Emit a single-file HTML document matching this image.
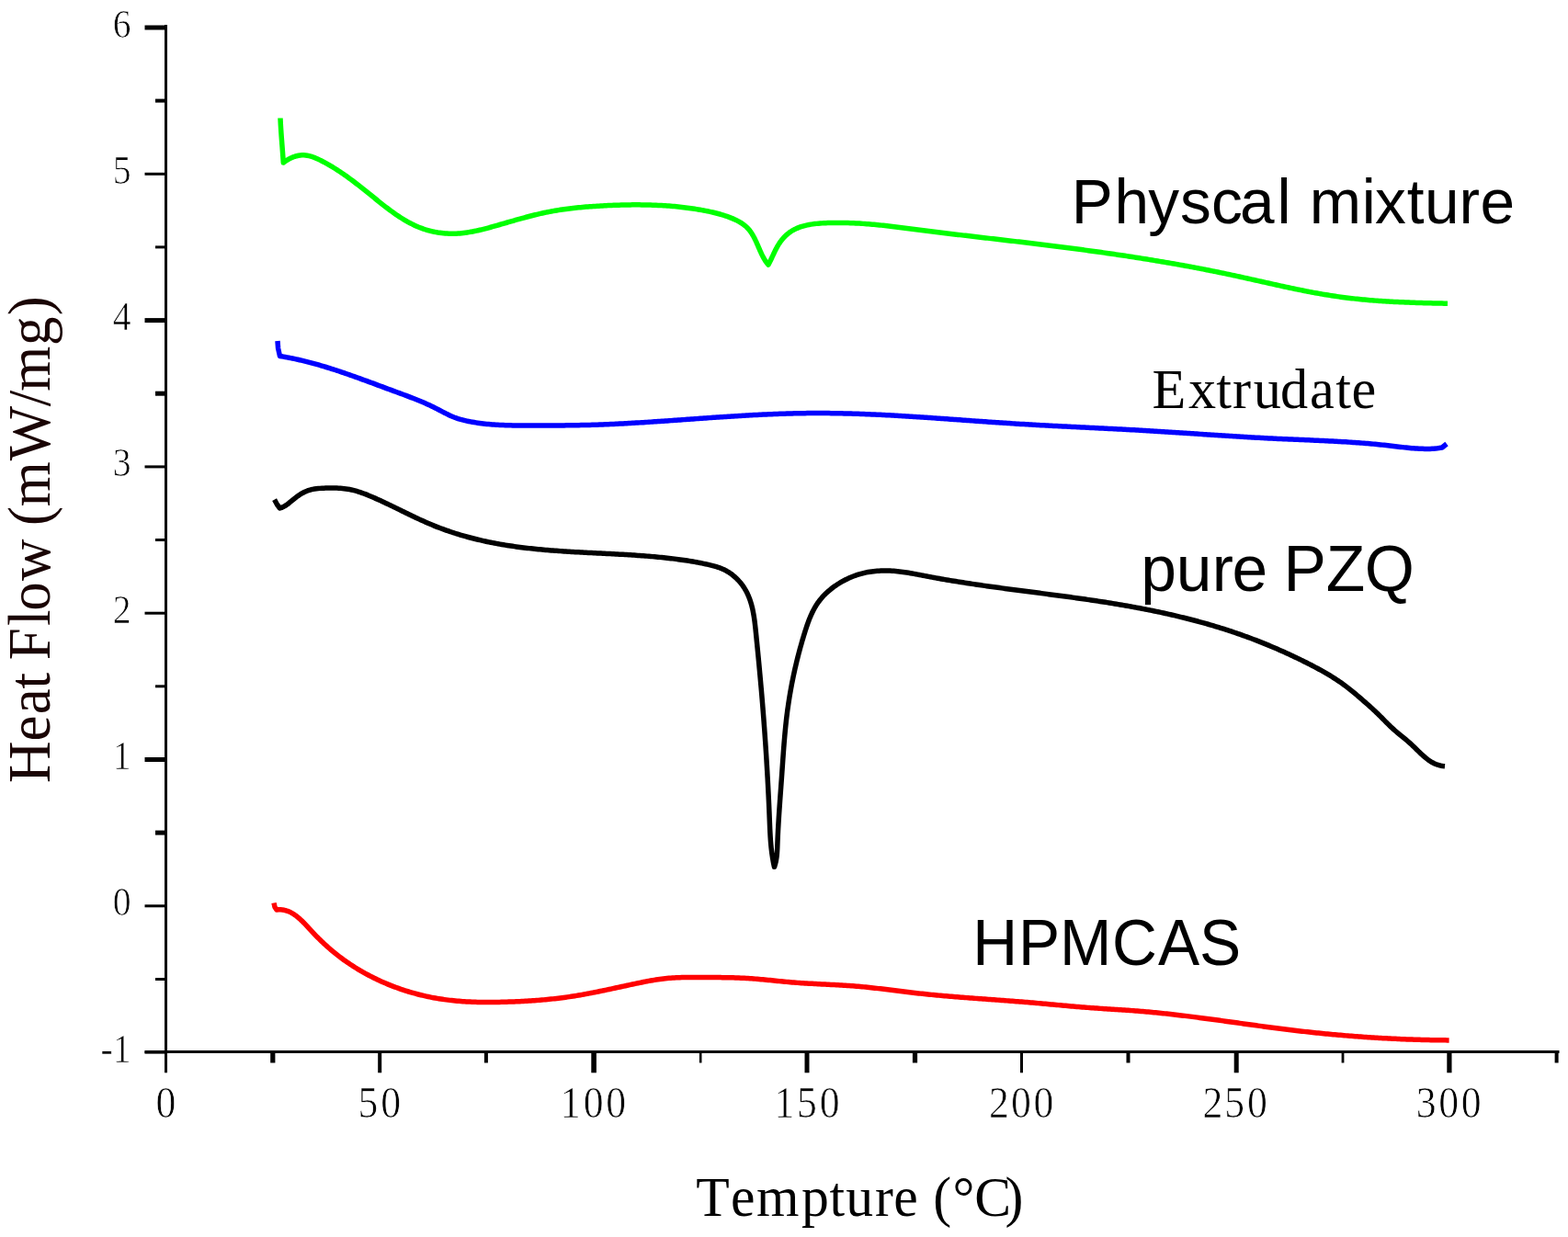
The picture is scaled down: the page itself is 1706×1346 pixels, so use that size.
<!DOCTYPE html>
<html><head><meta charset="utf-8"><title>DSC</title>
<style>html,body{margin:0;padding:0;background:#fff;}svg{display:block;}</style>
</head><body>
<svg width="1706" height="1346" viewBox="0 0 1706 1346">
<rect x="0" y="0" width="1706" height="1346" fill="#fff"/>
<g fill="#000">
<rect x="179" y="27" width="3" height="1140"/>
<rect x="157.5" y="1143" width="1539" height="3"/>
<rect x="157.5" y="27.5" width="22.5" height="5"/>
<rect x="169.0" y="107.6" width="11.0" height="4"/>
<rect x="157.5" y="187.8" width="22.5" height="3"/>
<rect x="169.0" y="267.4" width="11.0" height="3"/>
<rect x="157.5" y="346.1" width="22.5" height="5"/>
<rect x="169.0" y="425.7" width="11.0" height="5"/>
<rect x="157.5" y="506.4" width="22.5" height="3"/>
<rect x="169.0" y="586.0" width="11.0" height="3"/>
<rect x="157.5" y="665.7" width="22.5" height="3"/>
<rect x="169.0" y="745.3" width="11.0" height="3"/>
<rect x="157.5" y="824.0" width="22.5" height="5"/>
<rect x="169.0" y="903.6" width="11.0" height="5"/>
<rect x="157.5" y="984.3" width="22.5" height="3"/>
<rect x="169.0" y="1064.0" width="11.0" height="3"/>
<rect x="157.5" y="1143.6" width="22.5" height="3"/>
<rect x="179.1" y="1144" width="2.8" height="23.3"/>
<rect x="294.2" y="1144" width="5.2" height="12.5"/>
<rect x="411.2" y="1144" width="4.0" height="23.3"/>
<rect x="526.9" y="1144" width="4.0" height="12.5"/>
<rect x="643.3" y="1144" width="5.6" height="23.3"/>
<rect x="760.9" y="1144" width="2.6" height="12.5"/>
<rect x="875.5" y="1144" width="5.0" height="23.3"/>
<rect x="992.9" y="1144" width="5.2" height="12.5"/>
<rect x="1110.0" y="1144" width="3.0" height="23.3"/>
<rect x="1225.5" y="1144" width="4.0" height="12.5"/>
<rect x="1342.7" y="1144" width="5.0" height="23.3"/>
<rect x="1459.6" y="1144" width="2.8" height="12.5"/>
<rect x="1574.3" y="1144" width="5.2" height="23.3"/>
<rect x="1691.6" y="1144" width="4.0" height="12.5"/>
</g>
<path fill="none" stroke="#00ff00" stroke-width="5.5" stroke-linejoin="round" stroke-linecap="butt" d="M305.00,128.50 L305.09,130.61 L305.19,132.72 L305.30,134.83 L305.42,136.94 L305.55,139.05 L305.68,141.16 L305.82,143.27 L305.97,145.38 L306.12,147.49 L306.27,149.60 L306.43,151.70 L306.59,153.81 L306.75,155.92 L306.91,158.03 L307.08,160.13 L307.24,162.24 L307.40,164.35 L307.56,166.46 L307.71,168.57 L307.87,170.67 L308.02,172.78 L308.16,174.89 L308.30,177.00 L309.96,175.76 L311.67,174.60 L313.43,173.53 L315.24,172.55 L317.08,171.67 L318.96,170.90 L320.86,170.24 L322.78,169.70 L324.72,169.28 L326.66,169.00 L328.61,168.85 L330.54,168.84 L332.48,168.98 L334.40,169.25 L336.31,169.64 L338.21,170.14 L340.09,170.74 L341.97,171.42 L343.83,172.18 L345.68,173.00 L347.52,173.87 L349.34,174.78 L351.15,175.71 L352.94,176.67 L354.72,177.64 L356.48,178.62 L358.23,179.63 L359.97,180.64 L361.70,181.68 L363.41,182.73 L365.11,183.79 L366.80,184.87 L368.48,185.96 L370.14,187.07 L371.80,188.19 L373.45,189.32 L375.09,190.46 L376.73,191.61 L378.35,192.77 L379.97,193.95 L381.58,195.13 L383.18,196.32 L384.78,197.52 L386.37,198.73 L387.96,199.95 L389.55,201.17 L391.13,202.40 L392.70,203.64 L394.28,204.88 L395.85,206.13 L397.42,207.38 L398.99,208.64 L400.56,209.90 L402.12,211.16 L403.69,212.43 L405.26,213.70 L406.83,214.97 L408.40,216.24 L409.97,217.51 L411.54,218.78 L413.12,220.04 L414.70,221.31 L416.29,222.56 L417.88,223.81 L419.48,225.05 L421.08,226.28 L422.69,227.50 L424.30,228.71 L425.93,229.90 L427.56,231.08 L429.20,232.25 L430.85,233.40 L432.50,234.53 L434.17,235.64 L435.85,236.73 L437.54,237.79 L439.24,238.84 L440.96,239.86 L442.68,240.85 L444.42,241.82 L446.18,242.76 L447.95,243.67 L449.73,244.55 L451.53,245.40 L453.34,246.21 L455.17,246.99 L457.02,247.73 L458.89,248.44 L460.77,249.11 L462.67,249.74 L464.59,250.33 L466.53,250.88 L468.48,251.39 L470.44,251.86 L472.41,252.29 L474.40,252.67 L476.39,253.02 L478.39,253.32 L480.39,253.58 L482.40,253.80 L484.41,253.98 L486.42,254.11 L488.43,254.21 L490.43,254.25 L492.43,254.26 L494.43,254.23 L496.43,254.15 L498.42,254.04 L500.41,253.89 L502.39,253.70 L504.38,253.49 L506.36,253.24 L508.33,252.96 L510.31,252.65 L512.28,252.31 L514.25,251.95 L516.21,251.57 L518.18,251.16 L520.14,250.73 L522.10,250.28 L524.05,249.81 L526.01,249.33 L527.96,248.83 L529.91,248.32 L531.86,247.80 L533.81,247.26 L535.76,246.72 L537.70,246.17 L539.64,245.62 L541.58,245.06 L543.52,244.50 L545.46,243.94 L547.40,243.37 L549.34,242.81 L551.27,242.25 L553.21,241.69 L555.14,241.13 L557.08,240.58 L559.01,240.02 L560.95,239.47 L562.88,238.93 L564.82,238.39 L566.75,237.85 L568.69,237.32 L570.62,236.79 L572.56,236.27 L574.50,235.76 L576.44,235.25 L578.38,234.76 L580.32,234.27 L582.26,233.79 L584.20,233.32 L586.15,232.86 L588.10,232.41 L590.05,231.97 L592.00,231.54 L593.96,231.13 L595.91,230.73 L597.87,230.34 L599.84,229.96 L601.80,229.60 L603.77,229.25 L605.74,228.92 L607.72,228.59 L609.69,228.29 L611.67,227.99 L613.65,227.71 L615.64,227.43 L617.62,227.17 L619.61,226.92 L621.60,226.68 L623.59,226.45 L625.59,226.24 L627.58,226.03 L629.58,225.83 L631.58,225.64 L633.58,225.45 L635.58,225.28 L637.58,225.11 L639.59,224.96 L641.59,224.81 L643.60,224.66 L645.61,224.52 L647.61,224.39 L649.62,224.27 L651.63,224.15 L653.64,224.03 L655.65,223.92 L657.66,223.82 L659.67,223.72 L661.68,223.62 L663.69,223.53 L665.70,223.45 L667.71,223.36 L669.73,223.29 L671.74,223.22 L673.75,223.15 L675.76,223.10 L677.77,223.04 L679.78,223.00 L681.79,222.96 L683.80,222.92 L685.81,222.89 L687.82,222.87 L689.83,222.86 L691.84,222.85 L693.85,222.85 L695.86,222.86 L697.87,222.88 L699.88,222.90 L701.89,222.93 L703.89,222.97 L705.90,223.01 L707.90,223.07 L709.91,223.13 L711.91,223.21 L713.92,223.29 L715.92,223.38 L717.92,223.48 L719.92,223.58 L721.92,223.70 L723.92,223.83 L725.92,223.97 L727.92,224.11 L729.91,224.27 L731.91,224.44 L733.90,224.61 L735.89,224.80 L737.88,225.00 L739.87,225.21 L741.86,225.43 L743.85,225.66 L745.84,225.91 L747.82,226.16 L749.80,226.43 L751.79,226.70 L753.77,226.99 L755.74,227.30 L757.72,227.61 L759.70,227.94 L761.67,228.28 L763.64,228.63 L765.61,228.99 L767.58,229.37 L769.55,229.76 L771.51,230.17 L773.48,230.59 L775.43,231.03 L777.39,231.49 L779.34,231.97 L781.29,232.47 L783.23,233.00 L785.16,233.56 L787.09,234.15 L789.01,234.76 L790.92,235.41 L792.83,236.10 L794.72,236.82 L796.61,237.58 L798.48,238.38 L800.32,239.23 L802.13,240.13 L803.91,241.09 L805.63,242.10 L807.31,243.17 L808.92,244.31 L810.47,245.52 L811.94,246.80 L813.34,248.15 L814.64,249.59 L815.87,251.10 L817.02,252.68 L818.10,254.32 L819.12,256.01 L820.09,257.75 L821.02,259.54 L821.91,261.35 L822.77,263.20 L823.60,265.06 L824.43,266.94 L825.24,268.82 L826.06,270.71 L826.88,272.59 L827.72,274.46 L828.58,276.30 L829.48,278.12 L830.41,279.91 L831.38,281.65 L832.41,283.35 L833.51,285.00 L834.66,286.58 L835.90,288.10 L836.81,286.47 L837.69,284.77 L838.55,283.03 L839.40,281.25 L840.25,279.43 L841.10,277.60 L841.96,275.75 L842.84,273.89 L843.75,272.04 L844.70,270.20 L845.69,268.39 L846.73,266.61 L847.84,264.86 L849.00,263.17 L850.23,261.53 L851.52,259.95 L852.86,258.43 L854.26,256.98 L855.71,255.61 L857.21,254.32 L858.76,253.12 L860.36,252.01 L862.00,250.98 L863.68,250.02 L865.40,249.15 L867.16,248.35 L868.96,247.61 L870.79,246.95 L872.65,246.34 L874.54,245.80 L876.45,245.31 L878.39,244.87 L880.34,244.48 L882.32,244.14 L884.32,243.85 L886.33,243.59 L888.35,243.36 L890.38,243.17 L892.41,243.01 L894.46,242.87 L896.50,242.76 L898.55,242.67 L900.60,242.59 L902.64,242.52 L904.68,242.47 L906.72,242.43 L908.75,242.40 L910.79,242.39 L912.82,242.39 L914.84,242.40 L916.87,242.43 L918.89,242.46 L920.91,242.51 L922.93,242.56 L924.95,242.63 L926.97,242.71 L928.98,242.80 L930.99,242.90 L933.00,243.00 L935.01,243.12 L937.01,243.25 L939.02,243.38 L941.02,243.52 L943.02,243.67 L945.02,243.83 L947.02,244.00 L949.02,244.17 L951.02,244.35 L953.01,244.54 L955.01,244.73 L957.00,244.93 L958.99,245.13 L960.98,245.34 L962.98,245.56 L964.96,245.78 L966.95,246.00 L968.94,246.23 L970.93,246.46 L972.92,246.70 L974.90,246.94 L976.89,247.18 L978.88,247.43 L980.86,247.68 L982.85,247.93 L984.83,248.18 L986.82,248.43 L988.80,248.69 L990.79,248.95 L992.77,249.20 L994.76,249.46 L996.74,249.72 L998.73,249.98 L1000.72,250.23 L1002.70,250.49 L1004.69,250.75 L1006.68,251.00 L1008.67,251.25 L1010.65,251.51 L1012.64,251.76 L1014.63,252.01 L1016.62,252.26 L1018.61,252.50 L1020.60,252.75 L1022.60,253.00 L1024.59,253.24 L1026.58,253.48 L1028.57,253.73 L1030.56,253.97 L1032.56,254.21 L1034.55,254.45 L1036.54,254.69 L1038.54,254.93 L1040.53,255.17 L1042.53,255.40 L1044.52,255.64 L1046.52,255.88 L1048.51,256.11 L1050.51,256.35 L1052.51,256.58 L1054.50,256.82 L1056.50,257.05 L1058.50,257.28 L1060.49,257.52 L1062.49,257.75 L1064.49,257.98 L1066.49,258.22 L1068.48,258.45 L1070.48,258.68 L1072.48,258.91 L1074.48,259.14 L1076.47,259.37 L1078.47,259.61 L1080.47,259.84 L1082.47,260.07 L1084.47,260.30 L1086.47,260.53 L1088.46,260.76 L1090.46,261.00 L1092.46,261.23 L1094.46,261.46 L1096.46,261.69 L1098.46,261.93 L1100.46,262.16 L1102.45,262.39 L1104.45,262.63 L1106.45,262.86 L1108.45,263.10 L1110.45,263.34 L1112.44,263.57 L1114.44,263.81 L1116.44,264.05 L1118.44,264.28 L1120.43,264.52 L1122.43,264.76 L1124.43,265.00 L1126.43,265.25 L1128.42,265.49 L1130.42,265.73 L1132.42,265.97 L1134.41,266.22 L1136.41,266.46 L1138.40,266.71 L1140.40,266.96 L1142.39,267.20 L1144.39,267.45 L1146.38,267.70 L1148.38,267.95 L1150.37,268.21 L1152.37,268.46 L1154.36,268.71 L1156.36,268.97 L1158.35,269.22 L1160.34,269.48 L1162.34,269.74 L1164.33,270.00 L1166.32,270.26 L1168.31,270.52 L1170.31,270.78 L1172.30,271.04 L1174.29,271.31 L1176.28,271.57 L1178.27,271.84 L1180.27,272.11 L1182.26,272.38 L1184.25,272.65 L1186.24,272.92 L1188.23,273.19 L1190.22,273.47 L1192.21,273.74 L1194.20,274.02 L1196.19,274.30 L1198.18,274.58 L1200.17,274.86 L1202.15,275.14 L1204.14,275.42 L1206.13,275.71 L1208.12,276.00 L1210.11,276.29 L1212.09,276.57 L1214.08,276.87 L1216.07,277.16 L1218.05,277.45 L1220.04,277.75 L1222.03,278.05 L1224.01,278.34 L1226.00,278.64 L1227.98,278.95 L1229.97,279.25 L1231.95,279.56 L1233.93,279.86 L1235.92,280.17 L1237.90,280.48 L1239.89,280.79 L1241.87,281.11 L1243.85,281.42 L1245.83,281.74 L1247.82,282.06 L1249.80,282.38 L1251.78,282.70 L1253.76,283.02 L1255.74,283.35 L1257.72,283.68 L1259.70,284.01 L1261.68,284.34 L1263.66,284.67 L1265.64,285.01 L1267.62,285.35 L1269.60,285.69 L1271.58,286.03 L1273.56,286.37 L1275.53,286.72 L1277.51,287.06 L1279.49,287.41 L1281.46,287.76 L1283.44,288.12 L1285.42,288.47 L1287.39,288.83 L1289.37,289.19 L1291.34,289.55 L1293.32,289.92 L1295.29,290.28 L1297.26,290.65 L1299.24,291.02 L1301.21,291.39 L1303.18,291.77 L1305.16,292.14 L1307.13,292.52 L1309.10,292.91 L1311.07,293.29 L1313.04,293.68 L1315.01,294.06 L1316.98,294.46 L1318.95,294.85 L1320.92,295.24 L1322.89,295.64 L1324.86,296.04 L1326.83,296.45 L1328.80,296.85 L1330.76,297.26 L1332.73,297.67 L1334.70,298.08 L1336.66,298.50 L1338.63,298.91 L1340.59,299.33 L1342.56,299.76 L1344.52,300.18 L1346.49,300.61 L1348.45,301.04 L1350.42,301.47 L1352.38,301.90 L1354.34,302.34 L1356.31,302.77 L1358.27,303.21 L1360.23,303.65 L1362.19,304.09 L1364.16,304.53 L1366.12,304.97 L1368.08,305.41 L1370.04,305.85 L1372.00,306.29 L1373.97,306.73 L1375.93,307.17 L1377.89,307.61 L1379.85,308.05 L1381.82,308.49 L1383.78,308.92 L1385.74,309.36 L1387.70,309.80 L1389.67,310.23 L1391.63,310.66 L1393.59,311.09 L1395.56,311.52 L1397.52,311.95 L1399.49,312.37 L1401.45,312.79 L1403.42,313.21 L1405.38,313.62 L1407.35,314.04 L1409.32,314.45 L1411.29,314.85 L1413.25,315.25 L1415.22,315.65 L1417.19,316.05 L1419.16,316.44 L1421.13,316.83 L1423.10,317.21 L1425.08,317.59 L1427.05,317.96 L1429.02,318.33 L1431.00,318.69 L1432.97,319.05 L1434.95,319.40 L1436.92,319.75 L1438.90,320.09 L1440.88,320.43 L1442.86,320.76 L1444.84,321.08 L1446.82,321.40 L1448.81,321.71 L1450.79,322.01 L1452.77,322.31 L1454.76,322.60 L1456.75,322.88 L1458.74,323.16 L1460.72,323.43 L1462.71,323.69 L1464.71,323.94 L1466.70,324.19 L1468.69,324.43 L1470.69,324.66 L1472.68,324.89 L1474.68,325.11 L1476.68,325.32 L1478.68,325.53 L1480.68,325.73 L1482.68,325.92 L1484.68,326.11 L1486.68,326.29 L1488.68,326.47 L1490.68,326.64 L1492.69,326.80 L1494.69,326.96 L1496.70,327.12 L1498.70,327.27 L1500.71,327.41 L1502.71,327.55 L1504.72,327.68 L1506.73,327.81 L1508.74,327.94 L1510.74,328.06 L1512.75,328.17 L1514.76,328.29 L1516.77,328.39 L1518.78,328.50 L1520.79,328.60 L1522.80,328.69 L1524.81,328.78 L1526.82,328.87 L1528.83,328.96 L1530.84,329.04 L1532.85,329.11 L1534.86,329.19 L1536.87,329.26 L1538.88,329.33 L1540.89,329.40 L1542.90,329.46 L1544.91,329.52 L1546.91,329.58 L1548.92,329.63 L1550.93,329.69 L1552.94,329.74 L1554.95,329.79 L1556.96,329.84 L1558.96,329.88 L1560.97,329.93 L1562.98,329.97 L1564.98,330.01 L1566.99,330.05 L1568.99,330.09 L1570.99,330.13 L1573.00,330.16 L1575.00,330.20"/>
<path fill="none" stroke="#0000ff" stroke-width="5.5" stroke-linejoin="round" stroke-linecap="butt" d="M302.00,371.00 L302.60,379.00 L304.50,387.50 L306.47,387.82 L308.44,388.15 L310.41,388.49 L312.37,388.85 L314.34,389.22 L316.29,389.60 L318.25,390.00 L320.20,390.41 L322.15,390.82 L324.10,391.25 L326.05,391.70 L327.99,392.15 L329.93,392.61 L331.87,393.08 L333.80,393.57 L335.74,394.06 L337.67,394.56 L339.60,395.08 L341.52,395.60 L343.45,396.13 L345.37,396.67 L347.29,397.22 L349.21,397.78 L351.13,398.34 L353.04,398.92 L354.95,399.50 L356.86,400.09 L358.77,400.68 L360.68,401.28 L362.59,401.89 L364.49,402.51 L366.39,403.13 L368.29,403.76 L370.19,404.39 L372.09,405.03 L373.99,405.67 L375.89,406.32 L377.78,406.98 L379.67,407.64 L381.57,408.30 L383.46,408.97 L385.35,409.64 L387.24,410.31 L389.13,410.99 L391.01,411.67 L392.90,412.36 L394.79,413.04 L396.67,413.73 L398.55,414.42 L400.44,415.12 L402.32,415.81 L404.20,416.51 L406.09,417.20 L407.97,417.90 L409.85,418.60 L411.73,419.30 L413.61,420.00 L415.49,420.70 L417.37,421.40 L419.25,422.10 L421.13,422.80 L423.01,423.50 L424.89,424.20 L426.77,424.89 L428.65,425.59 L430.53,426.28 L432.41,426.97 L434.29,427.66 L436.16,428.35 L438.04,429.04 L439.92,429.74 L441.79,430.44 L443.66,431.14 L445.53,431.85 L447.40,432.56 L449.26,433.28 L451.12,434.01 L452.98,434.75 L454.84,435.50 L456.68,436.25 L458.53,437.02 L460.37,437.80 L462.20,438.60 L464.03,439.40 L465.85,440.23 L467.67,441.07 L469.48,441.92 L471.28,442.79 L473.08,443.68 L474.87,444.59 L476.65,445.52 L478.43,446.45 L480.21,447.39 L481.98,448.32 L483.76,449.24 L485.55,450.15 L487.34,451.04 L489.15,451.90 L490.96,452.73 L492.79,453.52 L494.64,454.26 L496.50,454.95 L498.38,455.59 L500.28,456.18 L502.20,456.71 L504.13,457.21 L506.07,457.67 L508.02,458.10 L509.97,458.50 L511.93,458.88 L513.90,459.24 L515.86,459.58 L517.83,459.89 L519.81,460.19 L521.78,460.47 L523.76,460.73 L525.75,460.97 L527.73,461.19 L529.72,461.40 L531.71,461.59 L533.70,461.76 L535.70,461.92 L537.70,462.07 L539.70,462.20 L541.70,462.32 L543.70,462.43 L545.71,462.53 L547.72,462.61 L549.73,462.69 L551.74,462.75 L553.75,462.81 L555.76,462.86 L557.77,462.90 L559.78,462.93 L561.80,462.96 L563.81,462.98 L565.83,462.99 L567.84,463.00 L569.85,463.01 L571.87,463.02 L573.88,463.02 L575.90,463.02 L577.91,463.01 L579.92,463.01 L581.93,463.01 L583.94,463.00 L585.95,463.00 L587.96,463.00 L589.97,462.99 L591.98,462.99 L593.99,462.98 L595.99,462.98 L598.00,462.97 L600.00,462.96 L602.01,462.96 L604.01,462.95 L606.01,462.94 L608.02,462.92 L610.02,462.91 L612.02,462.89 L614.02,462.88 L616.02,462.86 L618.02,462.84 L620.02,462.81 L622.02,462.79 L624.02,462.76 L626.02,462.73 L628.02,462.70 L630.02,462.66 L632.02,462.62 L634.02,462.58 L636.02,462.54 L638.02,462.49 L640.01,462.44 L642.01,462.38 L644.01,462.32 L646.01,462.26 L648.01,462.20 L650.01,462.13 L652.01,462.06 L654.01,461.99 L656.00,461.91 L658.00,461.83 L660.00,461.75 L662.00,461.66 L664.00,461.58 L666.00,461.49 L668.00,461.40 L670.00,461.30 L671.99,461.20 L673.99,461.10 L675.99,461.00 L677.99,460.90 L679.99,460.79 L681.99,460.69 L683.99,460.57 L685.99,460.46 L687.99,460.35 L689.98,460.23 L691.98,460.12 L693.98,460.00 L695.98,459.87 L697.98,459.75 L699.98,459.63 L701.98,459.50 L703.98,459.37 L705.98,459.25 L707.98,459.12 L709.98,458.99 L711.98,458.85 L713.97,458.72 L715.97,458.59 L717.97,458.45 L719.97,458.31 L721.97,458.18 L723.97,458.04 L725.97,457.90 L727.97,457.76 L729.97,457.62 L731.97,457.48 L733.97,457.34 L735.97,457.20 L737.97,457.05 L739.97,456.91 L741.97,456.77 L743.97,456.62 L745.97,456.48 L747.97,456.34 L749.97,456.19 L751.97,456.05 L753.97,455.91 L755.97,455.76 L757.97,455.62 L759.97,455.48 L761.97,455.34 L763.97,455.19 L765.98,455.05 L767.98,454.91 L769.98,454.77 L771.98,454.63 L773.98,454.49 L775.98,454.35 L777.98,454.22 L779.98,454.08 L781.98,453.94 L783.99,453.81 L785.99,453.67 L787.99,453.54 L789.99,453.41 L791.99,453.28 L793.99,453.15 L795.99,453.02 L798.00,452.90 L800.00,452.77 L802.00,452.65 L804.00,452.52 L806.00,452.40 L808.00,452.28 L810.01,452.17 L812.01,452.05 L814.01,451.94 L816.01,451.83 L818.01,451.72 L820.01,451.61 L822.02,451.50 L824.02,451.40 L826.02,451.30 L828.02,451.20 L830.02,451.10 L832.03,451.01 L834.03,450.92 L836.03,450.83 L838.03,450.74 L840.03,450.65 L842.04,450.57 L844.04,450.49 L846.04,450.42 L848.04,450.34 L850.04,450.27 L852.05,450.20 L854.05,450.14 L856.05,450.08 L858.05,450.02 L860.05,449.96 L862.05,449.91 L864.06,449.86 L866.06,449.82 L868.06,449.77 L870.06,449.74 L872.06,449.70 L874.07,449.67 L876.07,449.64 L878.07,449.62 L880.07,449.60 L882.07,449.58 L884.07,449.57 L886.07,449.56 L888.08,449.55 L890.08,449.55 L892.08,449.55 L894.08,449.56 L896.08,449.57 L898.08,449.58 L900.08,449.60 L902.08,449.62 L904.09,449.64 L906.09,449.66 L908.09,449.69 L910.09,449.73 L912.09,449.76 L914.09,449.80 L916.09,449.84 L918.09,449.89 L920.09,449.94 L922.09,449.99 L924.09,450.04 L926.10,450.10 L928.10,450.16 L930.10,450.22 L932.10,450.29 L934.10,450.36 L936.10,450.43 L938.10,450.50 L940.10,450.57 L942.10,450.65 L944.10,450.73 L946.10,450.82 L948.10,450.90 L950.10,450.99 L952.10,451.08 L954.10,451.17 L956.10,451.27 L958.10,451.36 L960.10,451.46 L962.10,451.56 L964.10,451.66 L966.10,451.77 L968.10,451.87 L970.10,451.98 L972.10,452.09 L974.10,452.20 L976.10,452.32 L978.11,452.43 L980.11,452.55 L982.11,452.67 L984.11,452.79 L986.11,452.91 L988.11,453.03 L990.11,453.16 L992.11,453.28 L994.11,453.41 L996.11,453.54 L998.11,453.67 L1000.11,453.80 L1002.11,453.93 L1004.11,454.06 L1006.11,454.19 L1008.11,454.33 L1010.11,454.46 L1012.10,454.60 L1014.10,454.74 L1016.10,454.87 L1018.10,455.01 L1020.10,455.15 L1022.10,455.29 L1024.10,455.43 L1026.10,455.57 L1028.10,455.72 L1030.10,455.86 L1032.10,456.00 L1034.10,456.14 L1036.10,456.29 L1038.10,456.43 L1040.10,456.57 L1042.10,456.72 L1044.10,456.86 L1046.10,457.00 L1048.10,457.15 L1050.10,457.29 L1052.10,457.44 L1054.10,457.58 L1056.10,457.72 L1058.10,457.87 L1060.10,458.01 L1062.10,458.15 L1064.10,458.30 L1066.10,458.44 L1068.10,458.58 L1070.10,458.72 L1072.10,458.86 L1074.10,459.00 L1076.10,459.14 L1078.10,459.28 L1080.10,459.42 L1082.10,459.56 L1084.10,459.69 L1086.10,459.83 L1088.10,459.96 L1090.10,460.10 L1092.10,460.23 L1094.10,460.36 L1096.10,460.50 L1098.10,460.62 L1100.10,460.75 L1102.10,460.88 L1104.10,461.01 L1106.10,461.13 L1108.10,461.26 L1110.10,461.38 L1112.10,461.50 L1114.10,461.62 L1116.10,461.74 L1118.10,461.86 L1120.10,461.97 L1122.10,462.09 L1124.10,462.20 L1126.10,462.31 L1128.10,462.43 L1130.10,462.54 L1132.10,462.65 L1134.10,462.76 L1136.10,462.86 L1138.10,462.97 L1140.10,463.08 L1142.10,463.18 L1144.10,463.29 L1146.10,463.39 L1148.10,463.50 L1150.10,463.60 L1152.10,463.70 L1154.10,463.81 L1156.10,463.91 L1158.10,464.01 L1160.10,464.11 L1162.10,464.21 L1164.10,464.31 L1166.10,464.41 L1168.10,464.51 L1170.10,464.61 L1172.10,464.71 L1174.10,464.81 L1176.10,464.91 L1178.11,465.00 L1180.11,465.10 L1182.11,465.20 L1184.11,465.30 L1186.11,465.40 L1188.11,465.50 L1190.11,465.59 L1192.11,465.69 L1194.11,465.79 L1196.11,465.89 L1198.11,465.99 L1200.11,466.09 L1202.11,466.19 L1204.11,466.29 L1206.11,466.39 L1208.11,466.49 L1210.11,466.59 L1212.11,466.70 L1214.11,466.80 L1216.11,466.90 L1218.11,467.00 L1220.11,467.11 L1222.11,467.21 L1224.11,467.32 L1226.11,467.43 L1228.11,467.53 L1230.11,467.64 L1232.11,467.75 L1234.11,467.86 L1236.11,467.97 L1238.11,468.08 L1240.11,468.20 L1242.11,468.31 L1244.11,468.42 L1246.11,468.54 L1248.11,468.66 L1250.11,468.78 L1252.11,468.89 L1254.11,469.01 L1256.11,469.14 L1258.11,469.26 L1260.11,469.38 L1262.11,469.51 L1264.10,469.63 L1266.10,469.76 L1268.10,469.88 L1270.10,470.01 L1272.10,470.14 L1274.10,470.27 L1276.10,470.39 L1278.10,470.52 L1280.10,470.65 L1282.10,470.78 L1284.10,470.92 L1286.10,471.05 L1288.10,471.18 L1290.10,471.31 L1292.10,471.44 L1294.10,471.58 L1296.10,471.71 L1298.10,471.84 L1300.10,471.97 L1302.10,472.11 L1304.10,472.24 L1306.10,472.37 L1308.10,472.51 L1310.10,472.64 L1312.10,472.77 L1314.10,472.90 L1316.10,473.04 L1318.10,473.17 L1320.10,473.30 L1322.10,473.43 L1324.10,473.56 L1326.10,473.69 L1328.10,473.82 L1330.10,473.95 L1332.10,474.08 L1334.10,474.21 L1336.10,474.34 L1338.10,474.46 L1340.10,474.59 L1342.10,474.72 L1344.10,474.84 L1346.10,474.96 L1348.10,475.09 L1350.10,475.21 L1352.10,475.33 L1354.10,475.45 L1356.10,475.57 L1358.10,475.69 L1360.10,475.80 L1362.10,475.92 L1364.10,476.03 L1366.10,476.15 L1368.10,476.26 L1370.10,476.37 L1372.11,476.48 L1374.11,476.59 L1376.11,476.69 L1378.11,476.80 L1380.11,476.90 L1382.11,477.00 L1384.11,477.10 L1386.11,477.20 L1388.11,477.30 L1390.12,477.39 L1392.12,477.49 L1394.12,477.58 L1396.12,477.67 L1398.12,477.76 L1400.12,477.85 L1402.13,477.94 L1404.13,478.02 L1406.13,478.11 L1408.13,478.19 L1410.13,478.28 L1412.13,478.36 L1414.14,478.45 L1416.14,478.53 L1418.14,478.62 L1420.14,478.70 L1422.14,478.79 L1424.14,478.87 L1426.15,478.96 L1428.15,479.05 L1430.15,479.13 L1432.15,479.22 L1434.15,479.31 L1436.15,479.40 L1438.15,479.50 L1440.15,479.59 L1442.15,479.69 L1444.15,479.78 L1446.15,479.88 L1448.16,479.98 L1450.16,480.08 L1452.16,480.19 L1454.16,480.30 L1456.15,480.41 L1458.15,480.52 L1460.15,480.64 L1462.15,480.75 L1464.15,480.87 L1466.15,481.00 L1468.15,481.13 L1470.15,481.26 L1472.15,481.39 L1474.14,481.53 L1476.14,481.67 L1478.14,481.82 L1480.14,481.97 L1482.13,482.12 L1484.13,482.28 L1486.13,482.44 L1488.12,482.61 L1490.12,482.78 L1492.11,482.95 L1494.11,483.13 L1496.10,483.32 L1498.10,483.51 L1500.09,483.71 L1502.09,483.91 L1504.08,484.12 L1506.07,484.33 L1508.07,484.55 L1510.06,484.77 L1512.05,485.00 L1514.04,485.24 L1516.03,485.47 L1518.03,485.71 L1520.02,485.95 L1522.01,486.18 L1524.00,486.41 L1525.99,486.64 L1527.99,486.86 L1529.98,487.07 L1531.97,487.27 L1533.97,487.46 L1535.96,487.64 L1537.96,487.80 L1539.95,487.95 L1541.95,488.08 L1543.95,488.19 L1545.95,488.28 L1547.95,488.35 L1549.95,488.40 L1551.96,488.42 L1553.96,488.42 L1555.97,488.38 L1557.98,488.32 L1559.99,488.23 L1562.00,488.10 L1569.00,487.00 L1574.00,483.00"/>
<path fill="none" stroke="#000000" stroke-width="5.5" stroke-linejoin="round" stroke-linecap="butt" d="M298.60,543.60 L301.50,549.00 L304.50,553.00 L306.33,552.39 L308.08,551.60 L309.78,550.67 L311.43,549.62 L313.05,548.47 L314.64,547.24 L316.21,545.96 L317.77,544.66 L319.34,543.35 L320.92,542.07 L322.53,540.82 L324.17,539.63 L325.83,538.50 L327.52,537.44 L329.24,536.44 L330.99,535.53 L332.78,534.70 L334.59,533.96 L336.45,533.31 L338.33,532.77 L340.26,532.34 L342.21,531.99 L344.18,531.72 L346.18,531.52 L348.19,531.37 L350.22,531.26 L352.25,531.18 L354.28,531.12 L356.31,531.07 L358.35,531.03 L360.38,531.02 L362.40,531.02 L364.42,531.05 L366.44,531.11 L368.45,531.20 L370.46,531.32 L372.46,531.48 L374.45,531.68 L376.43,531.93 L378.40,532.22 L380.36,532.57 L382.31,532.96 L384.25,533.41 L386.18,533.91 L388.09,534.45 L390.00,535.03 L391.90,535.65 L393.79,536.30 L395.67,536.98 L397.55,537.69 L399.41,538.43 L401.28,539.19 L403.13,539.96 L404.98,540.75 L406.83,541.55 L408.67,542.36 L410.50,543.18 L412.33,544.01 L414.16,544.84 L415.99,545.69 L417.81,546.54 L419.63,547.39 L421.44,548.26 L423.26,549.13 L425.07,550.00 L426.88,550.87 L428.69,551.75 L430.50,552.63 L432.30,553.52 L434.11,554.40 L435.91,555.29 L437.72,556.17 L439.53,557.06 L441.33,557.94 L443.14,558.82 L444.95,559.70 L446.76,560.57 L448.57,561.44 L450.38,562.31 L452.20,563.17 L454.02,564.02 L455.84,564.87 L457.66,565.71 L459.49,566.54 L461.32,567.36 L463.15,568.18 L464.99,568.98 L466.83,569.78 L468.68,570.56 L470.54,571.33 L472.39,572.09 L474.26,572.84 L476.13,573.57 L478.00,574.29 L479.88,575.00 L481.76,575.70 L483.65,576.39 L485.54,577.06 L487.44,577.72 L489.34,578.37 L491.25,579.01 L493.16,579.63 L495.07,580.25 L496.99,580.85 L498.91,581.44 L500.83,582.03 L502.76,582.59 L504.70,583.15 L506.63,583.70 L508.57,584.24 L510.51,584.76 L512.46,585.28 L514.40,585.78 L516.35,586.27 L518.31,586.76 L520.26,587.23 L522.22,587.69 L524.18,588.14 L526.14,588.59 L528.11,589.02 L530.08,589.44 L532.04,589.85 L534.01,590.25 L535.99,590.64 L537.96,591.03 L539.93,591.40 L541.91,591.76 L543.89,592.11 L545.86,592.46 L547.84,592.79 L549.82,593.12 L551.81,593.44 L553.79,593.75 L555.77,594.05 L557.76,594.34 L559.74,594.63 L561.73,594.90 L563.72,595.17 L565.71,595.43 L567.70,595.69 L569.69,595.93 L571.68,596.17 L573.67,596.41 L575.67,596.63 L577.66,596.85 L579.66,597.07 L581.65,597.27 L583.65,597.47 L585.65,597.67 L587.64,597.86 L589.64,598.05 L591.64,598.22 L593.64,598.40 L595.64,598.57 L597.64,598.73 L599.65,598.89 L601.65,599.05 L603.65,599.20 L605.66,599.35 L607.66,599.49 L609.66,599.63 L611.67,599.76 L613.67,599.90 L615.68,600.03 L617.69,600.15 L619.69,600.28 L621.70,600.40 L623.71,600.52 L625.71,600.63 L627.72,600.74 L629.73,600.86 L631.74,600.97 L633.75,601.07 L635.76,601.18 L637.77,601.29 L639.77,601.39 L641.78,601.49 L643.79,601.59 L645.80,601.70 L647.81,601.80 L649.82,601.90 L651.83,602.00 L653.84,602.10 L655.85,602.20 L657.86,602.30 L659.87,602.40 L661.88,602.51 L663.89,602.61 L665.89,602.71 L667.90,602.82 L669.91,602.93 L671.92,603.04 L673.93,603.15 L675.94,603.26 L677.94,603.37 L679.95,603.49 L681.96,603.61 L683.97,603.73 L685.97,603.86 L687.98,603.98 L689.98,604.11 L691.99,604.25 L693.99,604.39 L696.00,604.53 L698.00,604.67 L700.00,604.82 L702.01,604.97 L704.01,605.13 L706.01,605.29 L708.01,605.46 L710.01,605.63 L712.01,605.81 L714.01,605.99 L716.01,606.18 L718.00,606.37 L720.00,606.57 L722.00,606.77 L723.99,606.98 L725.99,607.20 L727.98,607.42 L729.97,607.65 L731.96,607.89 L733.96,608.14 L735.95,608.39 L737.94,608.65 L739.92,608.92 L741.91,609.20 L743.90,609.48 L745.89,609.78 L747.87,610.08 L749.86,610.40 L751.84,610.73 L753.82,611.06 L755.81,611.41 L757.79,611.77 L759.77,612.14 L761.75,612.52 L763.73,612.91 L765.70,613.32 L767.68,613.73 L769.66,614.16 L771.63,614.61 L773.60,615.08 L775.56,615.57 L777.51,616.10 L779.45,616.67 L781.36,617.28 L783.25,617.95 L785.12,618.68 L786.96,619.48 L788.76,620.35 L790.53,621.29 L792.26,622.31 L793.95,623.40 L795.60,624.56 L797.20,625.78 L798.76,627.07 L800.27,628.41 L801.74,629.80 L803.15,631.25 L804.50,632.75 L805.81,634.29 L807.05,635.87 L808.24,637.49 L809.37,639.15 L810.43,640.84 L811.43,642.55 L812.36,644.30 L813.24,646.07 L814.06,647.87 L814.82,649.69 L815.53,651.53 L816.19,653.39 L816.81,655.27 L817.37,657.18 L817.90,659.09 L818.39,661.03 L818.84,662.98 L819.25,664.94 L819.63,666.92 L819.99,668.90 L820.32,670.90 L820.62,672.90 L820.90,674.91 L821.17,676.93 L821.41,678.95 L821.65,680.98 L821.87,683.01 L822.09,685.04 L822.29,687.06 L822.50,689.09 L822.70,691.12 L822.91,693.14 L823.11,695.16 L823.31,697.17 L823.51,699.19 L823.71,701.20 L823.91,703.21 L824.11,705.22 L824.30,707.22 L824.50,709.23 L824.69,711.23 L824.89,713.23 L825.08,715.23 L825.27,717.23 L825.46,719.23 L825.65,721.23 L825.84,723.22 L826.03,725.21 L826.21,727.21 L826.40,729.20 L826.58,731.19 L826.76,733.18 L826.95,735.17 L827.13,737.16 L827.31,739.15 L827.49,741.15 L827.66,743.14 L827.84,745.13 L828.01,747.12 L828.19,749.11 L828.36,751.10 L828.53,753.09 L828.70,755.08 L828.87,757.07 L829.04,759.07 L829.21,761.06 L829.37,763.06 L829.54,765.05 L829.70,767.05 L829.86,769.05 L830.02,771.05 L830.18,773.04 L830.34,775.04 L830.50,777.04 L830.65,779.04 L830.81,781.05 L830.96,783.05 L831.11,785.05 L831.26,787.05 L831.41,789.06 L831.56,791.06 L831.71,793.07 L831.85,795.07 L832.00,797.08 L832.14,799.09 L832.28,801.09 L832.42,803.10 L832.56,805.11 L832.70,807.12 L832.84,809.12 L832.97,811.13 L833.11,813.14 L833.24,815.15 L833.37,817.16 L833.50,819.17 L833.63,821.18 L833.76,823.19 L833.88,825.20 L834.01,827.21 L834.13,829.22 L834.25,831.23 L834.37,833.25 L834.49,835.26 L834.61,837.27 L834.73,839.28 L834.84,841.29 L834.95,843.30 L835.07,845.32 L835.18,847.33 L835.29,849.34 L835.39,851.35 L835.50,853.36 L835.61,855.37 L835.71,857.39 L835.81,859.40 L835.91,861.41 L836.01,863.42 L836.11,865.43 L836.21,867.44 L836.30,869.45 L836.40,871.46 L836.49,873.47 L836.58,875.48 L836.67,877.49 L836.76,879.50 L836.84,881.51 L836.93,883.52 L837.01,885.53 L837.09,887.53 L837.17,889.54 L837.25,891.55 L837.33,893.56 L837.41,895.56 L837.49,897.57 L837.57,899.57 L837.66,901.58 L837.75,903.58 L837.85,905.58 L837.96,907.58 L838.07,909.58 L838.20,911.58 L838.33,913.58 L838.48,915.57 L838.64,917.56 L838.82,919.56 L839.01,921.55 L839.22,923.54 L839.45,925.52 L839.69,927.51 L839.96,929.49 L840.25,931.47 L840.56,933.45 L840.89,935.42 L841.26,937.40 L841.64,939.37 L842.06,941.33 L842.50,943.30 L843.14,941.38 L843.68,939.45 L844.14,937.51 L844.52,935.55 L844.84,933.58 L845.10,931.60 L845.30,929.61 L845.47,927.61 L845.59,925.61 L845.70,923.60 L845.78,921.59 L845.85,919.58 L845.93,917.57 L846.00,915.56 L846.08,913.55 L846.17,911.54 L846.26,909.53 L846.35,907.52 L846.45,905.52 L846.55,903.51 L846.66,901.51 L846.77,899.51 L846.88,897.50 L847.00,895.50 L847.12,893.50 L847.24,891.50 L847.36,889.50 L847.49,887.50 L847.62,885.50 L847.75,883.50 L847.89,881.50 L848.02,879.50 L848.16,877.51 L848.30,875.51 L848.44,873.51 L848.58,871.51 L848.73,869.51 L848.87,867.52 L849.01,865.52 L849.16,863.52 L849.31,861.52 L849.45,859.52 L849.60,857.52 L849.74,855.52 L849.89,853.52 L850.03,851.52 L850.18,849.52 L850.32,847.52 L850.46,845.52 L850.60,843.52 L850.75,841.51 L850.88,839.51 L851.02,837.51 L851.16,835.50 L851.30,833.50 L851.44,831.49 L851.58,829.48 L851.71,827.48 L851.85,825.47 L852.00,823.47 L852.14,821.46 L852.28,819.45 L852.43,817.45 L852.58,815.44 L852.73,813.44 L852.89,811.43 L853.04,809.43 L853.20,807.42 L853.37,805.42 L853.54,803.41 L853.71,801.41 L853.89,799.41 L854.07,797.41 L854.26,795.41 L854.45,793.41 L854.65,791.41 L854.86,789.41 L855.07,787.42 L855.28,785.42 L855.51,783.43 L855.74,781.44 L855.98,779.44 L856.23,777.45 L856.48,775.47 L856.74,773.48 L857.01,771.49 L857.29,769.51 L857.57,767.53 L857.86,765.55 L858.16,763.57 L858.47,761.59 L858.78,759.61 L859.10,757.64 L859.43,755.66 L859.77,753.69 L860.11,751.72 L860.47,749.75 L860.83,747.78 L861.20,745.82 L861.57,743.85 L861.95,741.89 L862.34,739.92 L862.74,737.96 L863.15,736.00 L863.56,734.04 L863.99,732.09 L864.41,730.13 L864.85,728.18 L865.30,726.22 L865.75,724.27 L866.21,722.32 L866.68,720.37 L867.15,718.42 L867.64,716.47 L868.13,714.53 L868.63,712.59 L869.13,710.64 L869.65,708.70 L870.17,706.76 L870.70,704.82 L871.24,702.88 L871.79,700.95 L872.34,699.01 L872.90,697.08 L873.47,695.15 L874.05,693.22 L874.63,691.29 L875.23,689.36 L875.83,687.43 L876.44,685.51 L877.06,683.58 L877.70,681.67 L878.35,679.76 L879.02,677.86 L879.72,675.98 L880.44,674.10 L881.18,672.24 L881.96,670.40 L882.76,668.57 L883.60,666.77 L884.47,664.98 L885.39,663.22 L886.34,661.48 L887.34,659.77 L888.38,658.09 L889.47,656.44 L890.62,654.82 L891.81,653.23 L893.06,651.68 L894.35,650.16 L895.70,648.67 L897.09,647.22 L898.52,645.81 L900.00,644.43 L901.51,643.09 L903.06,641.78 L904.64,640.52 L906.26,639.28 L907.90,638.09 L909.57,636.93 L911.26,635.82 L912.97,634.74 L914.70,633.69 L916.45,632.69 L918.22,631.73 L920.00,630.81 L921.80,629.92 L923.62,629.08 L925.45,628.28 L927.29,627.51 L929.15,626.79 L931.02,626.11 L932.90,625.48 L934.80,624.88 L936.71,624.33 L938.63,623.82 L940.56,623.35 L942.51,622.92 L944.46,622.54 L946.42,622.21 L948.40,621.91 L950.38,621.66 L952.37,621.45 L954.37,621.28 L956.37,621.15 L958.38,621.06 L960.40,621.00 L962.41,620.98 L964.43,620.99 L966.45,621.04 L968.47,621.12 L970.49,621.22 L972.51,621.36 L974.53,621.52 L976.55,621.71 L978.56,621.93 L980.56,622.17 L982.57,622.43 L984.56,622.72 L986.55,623.02 L988.54,623.34 L990.52,623.68 L992.50,624.03 L994.47,624.39 L996.45,624.75 L998.42,625.13 L1000.39,625.51 L1002.35,625.89 L1004.32,626.28 L1006.29,626.66 L1008.26,627.03 L1010.23,627.41 L1012.20,627.78 L1014.17,628.14 L1016.14,628.51 L1018.11,628.86 L1020.09,629.22 L1022.06,629.57 L1024.03,629.92 L1026.01,630.26 L1027.98,630.60 L1029.96,630.94 L1031.93,631.28 L1033.91,631.61 L1035.89,631.93 L1037.86,632.26 L1039.84,632.58 L1041.82,632.90 L1043.80,633.22 L1045.78,633.53 L1047.76,633.84 L1049.74,634.15 L1051.72,634.45 L1053.70,634.76 L1055.69,635.06 L1057.67,635.36 L1059.65,635.65 L1061.63,635.95 L1063.62,636.24 L1065.60,636.53 L1067.59,636.81 L1069.57,637.10 L1071.56,637.38 L1073.54,637.66 L1075.53,637.94 L1077.51,638.22 L1079.50,638.50 L1081.48,638.77 L1083.47,639.05 L1085.46,639.32 L1087.44,639.59 L1089.43,639.86 L1091.42,640.13 L1093.41,640.40 L1095.40,640.66 L1097.38,640.93 L1099.37,641.19 L1101.36,641.45 L1103.35,641.72 L1105.34,641.98 L1107.33,642.24 L1109.32,642.50 L1111.31,642.76 L1113.30,643.02 L1115.29,643.28 L1117.27,643.54 L1119.26,643.80 L1121.25,644.06 L1123.24,644.31 L1125.23,644.57 L1127.22,644.83 L1129.21,645.09 L1131.20,645.35 L1133.19,645.61 L1135.18,645.87 L1137.17,646.13 L1139.16,646.39 L1141.15,646.65 L1143.14,646.91 L1145.13,647.17 L1147.12,647.43 L1149.11,647.69 L1151.10,647.96 L1153.09,648.22 L1155.08,648.49 L1157.06,648.76 L1159.05,649.02 L1161.04,649.29 L1163.03,649.56 L1165.02,649.84 L1167.01,650.11 L1168.99,650.38 L1170.98,650.66 L1172.97,650.94 L1174.96,651.22 L1176.94,651.50 L1178.93,651.78 L1180.92,652.07 L1182.90,652.35 L1184.89,652.64 L1186.87,652.93 L1188.86,653.23 L1190.84,653.52 L1192.83,653.82 L1194.81,654.12 L1196.79,654.42 L1198.78,654.73 L1200.76,655.03 L1202.74,655.34 L1204.72,655.66 L1206.71,655.97 L1208.69,656.29 L1210.67,656.61 L1212.65,656.93 L1214.63,657.26 L1216.61,657.59 L1218.59,657.93 L1220.56,658.26 L1222.54,658.60 L1224.52,658.94 L1226.50,659.29 L1228.47,659.64 L1230.45,660.00 L1232.42,660.35 L1234.40,660.71 L1236.37,661.08 L1238.35,661.45 L1240.32,661.82 L1242.29,662.20 L1244.26,662.58 L1246.23,662.96 L1248.20,663.35 L1250.17,663.74 L1252.14,664.14 L1254.10,664.54 L1256.07,664.94 L1258.04,665.35 L1260.00,665.77 L1261.96,666.18 L1263.93,666.60 L1265.89,667.03 L1267.85,667.46 L1269.81,667.90 L1271.77,668.34 L1273.72,668.78 L1275.68,669.23 L1277.64,669.68 L1279.59,670.14 L1281.54,670.61 L1283.49,671.07 L1285.44,671.55 L1287.39,672.03 L1289.34,672.51 L1291.29,673.00 L1293.23,673.49 L1295.17,673.99 L1297.12,674.49 L1299.06,675.00 L1300.99,675.51 L1302.93,676.03 L1304.87,676.56 L1306.80,677.09 L1308.74,677.62 L1310.67,678.16 L1312.60,678.71 L1314.52,679.26 L1316.45,679.82 L1318.38,680.38 L1320.30,680.95 L1322.22,681.52 L1324.14,682.10 L1326.06,682.69 L1327.97,683.28 L1329.89,683.88 L1331.80,684.48 L1333.71,685.09 L1335.62,685.71 L1337.52,686.33 L1339.43,686.96 L1341.33,687.60 L1343.23,688.24 L1345.13,688.88 L1347.02,689.54 L1348.92,690.20 L1350.81,690.86 L1352.70,691.54 L1354.59,692.22 L1356.47,692.90 L1358.35,693.59 L1360.23,694.29 L1362.11,695.00 L1363.99,695.71 L1365.86,696.43 L1367.73,697.15 L1369.60,697.89 L1371.47,698.62 L1373.33,699.37 L1375.20,700.12 L1377.06,700.88 L1378.91,701.64 L1380.77,702.41 L1382.62,703.18 L1384.47,703.96 L1386.32,704.75 L1388.16,705.54 L1390.00,706.34 L1391.84,707.15 L1393.68,707.96 L1395.51,708.78 L1397.34,709.60 L1399.17,710.43 L1401.00,711.26 L1402.82,712.10 L1404.64,712.95 L1406.46,713.80 L1408.28,714.66 L1410.09,715.52 L1411.90,716.39 L1413.71,717.26 L1415.51,718.14 L1417.31,719.02 L1419.11,719.91 L1420.91,720.81 L1422.70,721.71 L1424.49,722.61 L1426.28,723.53 L1428.06,724.45 L1429.83,725.37 L1431.61,726.31 L1433.37,727.26 L1435.13,728.21 L1436.89,729.17 L1438.64,730.15 L1440.38,731.14 L1442.12,732.13 L1443.85,733.14 L1445.57,734.17 L1447.28,735.20 L1448.98,736.25 L1450.68,737.31 L1452.36,738.39 L1454.04,739.48 L1455.71,740.59 L1457.37,741.72 L1459.01,742.86 L1460.65,744.02 L1462.27,745.20 L1463.89,746.40 L1465.49,747.61 L1467.08,748.84 L1468.66,750.08 L1470.23,751.34 L1471.80,752.61 L1473.36,753.89 L1474.90,755.19 L1476.45,756.49 L1477.98,757.79 L1479.51,759.11 L1481.04,760.42 L1482.56,761.75 L1484.07,763.07 L1485.59,764.40 L1487.09,765.73 L1488.60,767.06 L1490.09,768.40 L1491.58,769.74 L1493.06,771.09 L1494.53,772.45 L1496.00,773.82 L1497.45,775.20 L1498.89,776.59 L1500.32,777.99 L1501.74,779.40 L1503.16,780.81 L1504.56,782.23 L1505.97,783.66 L1507.37,785.08 L1508.79,786.49 L1510.20,787.90 L1511.63,789.29 L1513.07,790.67 L1514.53,792.03 L1516.01,793.37 L1517.50,794.69 L1519.01,795.99 L1520.54,797.27 L1522.07,798.55 L1523.62,799.82 L1525.16,801.09 L1526.71,802.36 L1528.26,803.64 L1529.80,804.93 L1531.34,806.23 L1532.87,807.55 L1534.38,808.89 L1535.88,810.25 L1537.36,811.65 L1538.83,813.06 L1540.29,814.49 L1541.74,815.92 L1543.19,817.35 L1544.65,818.77 L1546.11,820.17 L1547.59,821.55 L1549.08,822.89 L1550.60,824.19 L1552.14,825.44 L1553.71,826.64 L1555.31,827.77 L1556.95,828.82 L1558.64,829.80 L1560.37,830.68 L1562.15,831.47 L1563.99,832.16 L1565.89,832.73 L1567.86,833.18 L1569.89,833.51 L1572.00,833.70"/>
<path fill="none" stroke="#ff0000" stroke-width="5.5" stroke-linejoin="round" stroke-linecap="butt" d="M298.00,982.50 L299.00,987.00 L301.00,990.00 L303.16,989.84 L305.25,989.84 L307.26,990.00 L309.21,990.32 L311.09,990.77 L312.92,991.36 L314.69,992.06 L316.41,992.88 L318.08,993.79 L319.70,994.80 L321.29,995.90 L322.84,997.06 L324.36,998.30 L325.85,999.59 L327.31,1000.93 L328.75,1002.32 L330.17,1003.74 L331.58,1005.20 L332.98,1006.68 L334.36,1008.17 L335.74,1009.68 L337.12,1011.18 L338.51,1012.68 L339.90,1014.17 L341.29,1015.65 L342.69,1017.11 L344.10,1018.56 L345.52,1020.00 L346.94,1021.42 L348.37,1022.83 L349.82,1024.22 L351.27,1025.60 L352.73,1026.97 L354.20,1028.32 L355.68,1029.66 L357.17,1030.99 L358.67,1032.30 L360.19,1033.60 L361.72,1034.88 L363.25,1036.16 L364.80,1037.41 L366.37,1038.65 L367.94,1039.88 L369.53,1041.10 L371.13,1042.30 L372.73,1043.49 L374.35,1044.66 L375.99,1045.82 L377.63,1046.96 L379.28,1048.09 L380.94,1049.20 L382.62,1050.31 L384.30,1051.39 L385.99,1052.47 L387.69,1053.52 L389.41,1054.57 L391.13,1055.60 L392.86,1056.61 L394.60,1057.61 L396.35,1058.60 L398.11,1059.57 L399.87,1060.52 L401.65,1061.47 L403.43,1062.39 L405.22,1063.30 L407.02,1064.20 L408.83,1065.08 L410.64,1065.95 L412.46,1066.81 L414.29,1067.64 L416.13,1068.47 L417.97,1069.27 L419.82,1070.07 L421.68,1070.85 L423.54,1071.61 L425.41,1072.36 L427.28,1073.09 L429.17,1073.81 L431.05,1074.51 L432.94,1075.20 L434.84,1075.87 L436.75,1076.53 L438.65,1077.17 L440.57,1077.79 L442.48,1078.40 L444.41,1079.00 L446.33,1079.58 L448.26,1080.14 L450.20,1080.69 L452.14,1081.22 L454.08,1081.74 L456.03,1082.24 L457.98,1082.73 L459.93,1083.20 L461.88,1083.65 L463.84,1084.09 L465.80,1084.52 L467.77,1084.92 L469.73,1085.32 L471.70,1085.69 L473.67,1086.05 L475.65,1086.39 L477.62,1086.72 L479.60,1087.03 L481.57,1087.33 L483.55,1087.61 L485.53,1087.88 L487.52,1088.13 L489.50,1088.36 L491.48,1088.58 L493.47,1088.79 L495.46,1088.99 L497.44,1089.17 L499.43,1089.34 L501.42,1089.49 L503.41,1089.64 L505.41,1089.77 L507.40,1089.89 L509.40,1090.00 L511.39,1090.09 L513.39,1090.18 L515.39,1090.25 L517.38,1090.32 L519.38,1090.38 L521.38,1090.42 L523.38,1090.46 L525.38,1090.49 L527.39,1090.51 L529.39,1090.52 L531.39,1090.52 L533.39,1090.52 L535.40,1090.51 L537.40,1090.49 L539.41,1090.46 L541.41,1090.43 L543.42,1090.39 L545.43,1090.35 L547.43,1090.30 L549.44,1090.25 L551.45,1090.19 L553.45,1090.12 L555.46,1090.05 L557.47,1089.98 L559.47,1089.90 L561.48,1089.82 L563.49,1089.73 L565.50,1089.64 L567.50,1089.54 L569.51,1089.44 L571.52,1089.33 L573.52,1089.21 L575.53,1089.09 L577.53,1088.96 L579.54,1088.83 L581.54,1088.68 L583.54,1088.54 L585.55,1088.38 L587.55,1088.22 L589.55,1088.05 L591.55,1087.88 L593.55,1087.70 L595.55,1087.51 L597.55,1087.31 L599.54,1087.11 L601.54,1086.89 L603.53,1086.67 L605.53,1086.44 L607.52,1086.21 L609.51,1085.96 L611.50,1085.71 L613.49,1085.44 L615.47,1085.17 L617.46,1084.89 L619.44,1084.60 L621.42,1084.30 L623.40,1083.99 L625.38,1083.68 L627.36,1083.35 L629.34,1083.02 L631.31,1082.68 L633.28,1082.34 L635.26,1081.98 L637.23,1081.62 L639.20,1081.26 L641.17,1080.88 L643.13,1080.51 L645.10,1080.12 L647.07,1079.74 L649.03,1079.34 L651.00,1078.95 L652.96,1078.54 L654.93,1078.14 L656.89,1077.73 L658.85,1077.32 L660.82,1076.91 L662.78,1076.49 L664.74,1076.07 L666.70,1075.65 L668.66,1075.23 L670.62,1074.81 L672.58,1074.39 L674.54,1073.96 L676.50,1073.54 L678.47,1073.11 L680.43,1072.69 L682.39,1072.27 L684.35,1071.85 L686.31,1071.43 L688.27,1071.01 L690.24,1070.59 L692.20,1070.18 L694.16,1069.77 L696.13,1069.36 L698.09,1068.96 L700.06,1068.56 L702.02,1068.17 L703.99,1067.79 L705.96,1067.42 L707.93,1067.06 L709.90,1066.71 L711.88,1066.38 L713.85,1066.06 L715.83,1065.76 L717.81,1065.47 L719.79,1065.21 L721.78,1064.96 L723.76,1064.74 L725.75,1064.54 L727.74,1064.36 L729.74,1064.20 L731.73,1064.05 L733.73,1063.93 L735.73,1063.82 L737.73,1063.72 L739.73,1063.64 L741.73,1063.57 L743.74,1063.52 L745.74,1063.47 L747.75,1063.44 L749.76,1063.42 L751.77,1063.40 L753.78,1063.39 L755.79,1063.39 L757.79,1063.40 L759.80,1063.40 L761.81,1063.42 L763.82,1063.43 L765.83,1063.45 L767.84,1063.46 L769.85,1063.48 L771.86,1063.49 L773.87,1063.51 L775.88,1063.53 L777.89,1063.54 L779.89,1063.56 L781.90,1063.58 L783.91,1063.60 L785.91,1063.63 L787.92,1063.66 L789.92,1063.69 L791.92,1063.73 L793.93,1063.77 L795.93,1063.82 L797.93,1063.87 L799.94,1063.93 L801.94,1063.99 L803.94,1064.07 L805.94,1064.15 L807.94,1064.24 L809.94,1064.33 L811.94,1064.44 L813.94,1064.56 L815.93,1064.68 L817.93,1064.82 L819.93,1064.97 L821.92,1065.12 L823.92,1065.29 L825.92,1065.46 L827.91,1065.64 L829.91,1065.82 L831.90,1066.01 L833.90,1066.20 L835.89,1066.40 L837.88,1066.60 L839.88,1066.80 L841.87,1067.00 L843.87,1067.20 L845.86,1067.40 L847.86,1067.61 L849.85,1067.80 L851.85,1068.00 L853.85,1068.19 L855.84,1068.38 L857.84,1068.56 L859.84,1068.74 L861.83,1068.91 L863.83,1069.08 L865.83,1069.23 L867.83,1069.38 L869.83,1069.52 L871.83,1069.66 L873.83,1069.79 L875.83,1069.92 L877.83,1070.04 L879.83,1070.15 L881.84,1070.27 L883.84,1070.37 L885.84,1070.48 L887.84,1070.58 L889.85,1070.69 L891.85,1070.79 L893.85,1070.89 L895.86,1070.98 L897.86,1071.08 L899.86,1071.18 L901.86,1071.28 L903.87,1071.38 L905.87,1071.48 L907.87,1071.58 L909.87,1071.69 L911.88,1071.80 L913.88,1071.91 L915.88,1072.03 L917.88,1072.15 L919.88,1072.27 L921.88,1072.41 L923.88,1072.54 L925.88,1072.68 L927.88,1072.83 L929.88,1072.99 L931.87,1073.15 L933.87,1073.32 L935.87,1073.50 L937.86,1073.69 L939.86,1073.88 L941.85,1074.08 L943.85,1074.28 L945.84,1074.49 L947.83,1074.71 L949.83,1074.93 L951.82,1075.16 L953.81,1075.38 L955.80,1075.62 L957.79,1075.85 L959.78,1076.09 L961.78,1076.33 L963.77,1076.58 L965.76,1076.82 L967.75,1077.07 L969.74,1077.32 L971.73,1077.57 L973.72,1077.82 L975.71,1078.07 L977.70,1078.32 L979.69,1078.56 L981.68,1078.81 L983.67,1079.06 L985.66,1079.30 L987.66,1079.54 L989.65,1079.78 L991.64,1080.02 L993.63,1080.25 L995.63,1080.48 L997.62,1080.70 L999.61,1080.92 L1001.61,1081.14 L1003.60,1081.35 L1005.59,1081.56 L1007.59,1081.77 L1009.58,1081.97 L1011.58,1082.17 L1013.57,1082.37 L1015.57,1082.56 L1017.57,1082.75 L1019.56,1082.94 L1021.56,1083.12 L1023.56,1083.31 L1025.55,1083.49 L1027.55,1083.66 L1029.55,1083.84 L1031.55,1084.01 L1033.55,1084.18 L1035.54,1084.35 L1037.54,1084.51 L1039.54,1084.67 L1041.54,1084.84 L1043.54,1085.00 L1045.54,1085.16 L1047.54,1085.31 L1049.54,1085.47 L1051.54,1085.62 L1053.54,1085.77 L1055.54,1085.93 L1057.54,1086.08 L1059.54,1086.23 L1061.54,1086.38 L1063.54,1086.52 L1065.54,1086.67 L1067.54,1086.82 L1069.54,1086.97 L1071.54,1087.11 L1073.54,1087.26 L1075.54,1087.40 L1077.54,1087.55 L1079.54,1087.69 L1081.54,1087.84 L1083.54,1087.99 L1085.54,1088.13 L1087.54,1088.28 L1089.54,1088.43 L1091.54,1088.57 L1093.54,1088.72 L1095.54,1088.87 L1097.54,1089.02 L1099.54,1089.17 L1101.54,1089.33 L1103.54,1089.48 L1105.54,1089.64 L1107.54,1089.79 L1109.54,1089.95 L1111.54,1090.11 L1113.54,1090.27 L1115.54,1090.43 L1117.54,1090.60 L1119.54,1090.77 L1121.53,1090.93 L1123.53,1091.11 L1125.53,1091.28 L1127.53,1091.45 L1129.53,1091.63 L1131.52,1091.81 L1133.52,1091.99 L1135.52,1092.17 L1137.52,1092.35 L1139.51,1092.53 L1141.51,1092.72 L1143.51,1092.90 L1145.50,1093.08 L1147.50,1093.27 L1149.50,1093.45 L1151.49,1093.63 L1153.49,1093.82 L1155.49,1094.00 L1157.49,1094.18 L1159.48,1094.36 L1161.48,1094.54 L1163.48,1094.72 L1165.48,1094.89 L1167.47,1095.07 L1169.47,1095.24 L1171.47,1095.41 L1173.47,1095.58 L1175.47,1095.74 L1177.46,1095.91 L1179.46,1096.07 L1181.46,1096.22 L1183.46,1096.38 L1185.46,1096.53 L1187.46,1096.68 L1189.46,1096.82 L1191.46,1096.96 L1193.46,1097.10 L1195.46,1097.24 L1197.46,1097.37 L1199.46,1097.51 L1201.47,1097.64 L1203.47,1097.77 L1205.47,1097.90 L1207.47,1098.03 L1209.47,1098.16 L1211.47,1098.28 L1213.47,1098.41 L1215.47,1098.54 L1217.47,1098.67 L1219.48,1098.81 L1221.48,1098.94 L1223.48,1099.07 L1225.48,1099.21 L1227.48,1099.35 L1229.48,1099.49 L1231.48,1099.63 L1233.48,1099.78 L1235.47,1099.93 L1237.47,1100.09 L1239.47,1100.25 L1241.47,1100.41 L1243.47,1100.57 L1245.46,1100.75 L1247.46,1100.92 L1249.45,1101.10 L1251.45,1101.28 L1253.45,1101.47 L1255.44,1101.66 L1257.43,1101.85 L1259.43,1102.05 L1261.42,1102.25 L1263.42,1102.46 L1265.41,1102.66 L1267.40,1102.88 L1269.39,1103.09 L1271.39,1103.31 L1273.38,1103.53 L1275.37,1103.75 L1277.36,1103.98 L1279.35,1104.21 L1281.34,1104.44 L1283.33,1104.67 L1285.32,1104.91 L1287.31,1105.15 L1289.30,1105.39 L1291.29,1105.63 L1293.28,1105.88 L1295.27,1106.13 L1297.26,1106.38 L1299.25,1106.63 L1301.24,1106.89 L1303.23,1107.14 L1305.21,1107.40 L1307.20,1107.66 L1309.19,1107.92 L1311.18,1108.18 L1313.17,1108.45 L1315.15,1108.71 L1317.14,1108.98 L1319.13,1109.25 L1321.12,1109.52 L1323.10,1109.79 L1325.09,1110.06 L1327.08,1110.33 L1329.06,1110.60 L1331.05,1110.88 L1333.04,1111.15 L1335.02,1111.42 L1337.01,1111.70 L1339.00,1111.98 L1340.98,1112.25 L1342.97,1112.53 L1344.96,1112.80 L1346.94,1113.08 L1348.93,1113.35 L1350.92,1113.63 L1352.91,1113.91 L1354.89,1114.18 L1356.88,1114.46 L1358.87,1114.73 L1360.85,1115.01 L1362.84,1115.28 L1364.83,1115.55 L1366.82,1115.83 L1368.80,1116.10 L1370.79,1116.37 L1372.78,1116.64 L1374.77,1116.91 L1376.75,1117.17 L1378.74,1117.44 L1380.73,1117.70 L1382.72,1117.97 L1384.71,1118.23 L1386.70,1118.49 L1388.69,1118.75 L1390.68,1119.01 L1392.66,1119.26 L1394.65,1119.51 L1396.64,1119.77 L1398.63,1120.02 L1400.62,1120.26 L1402.62,1120.51 L1404.61,1120.75 L1406.60,1120.99 L1408.59,1121.23 L1410.58,1121.47 L1412.57,1121.70 L1414.57,1121.93 L1416.56,1122.16 L1418.55,1122.39 L1420.54,1122.61 L1422.54,1122.83 L1424.53,1123.05 L1426.52,1123.26 L1428.52,1123.48 L1430.51,1123.69 L1432.51,1123.89 L1434.50,1124.10 L1436.50,1124.30 L1438.49,1124.50 L1440.49,1124.70 L1442.49,1124.90 L1444.48,1125.09 L1446.48,1125.28 L1448.47,1125.47 L1450.47,1125.65 L1452.47,1125.83 L1454.47,1126.01 L1456.46,1126.19 L1458.46,1126.36 L1460.46,1126.54 L1462.46,1126.71 L1464.45,1126.87 L1466.45,1127.04 L1468.45,1127.20 L1470.45,1127.36 L1472.45,1127.51 L1474.45,1127.67 L1476.45,1127.82 L1478.45,1127.96 L1480.45,1128.11 L1482.45,1128.25 L1484.45,1128.39 L1486.45,1128.53 L1488.45,1128.67 L1490.45,1128.80 L1492.45,1128.93 L1494.45,1129.05 L1496.45,1129.18 L1498.46,1129.30 L1500.46,1129.42 L1502.46,1129.54 L1504.46,1129.65 L1506.46,1129.76 L1508.46,1129.87 L1510.47,1129.97 L1512.47,1130.08 L1514.47,1130.18 L1516.47,1130.27 L1518.48,1130.37 L1520.48,1130.46 L1522.48,1130.55 L1524.49,1130.63 L1526.49,1130.72 L1528.49,1130.80 L1530.50,1130.88 L1532.50,1130.95 L1534.50,1131.02 L1536.51,1131.09 L1538.51,1131.16 L1540.52,1131.22 L1542.52,1131.29 L1544.52,1131.34 L1546.53,1131.40 L1548.53,1131.45 L1550.54,1131.50 L1552.54,1131.55 L1554.55,1131.60 L1556.55,1131.64 L1558.56,1131.68 L1560.56,1131.71 L1562.56,1131.75 L1564.57,1131.78 L1566.57,1131.80 L1568.58,1131.83 L1570.58,1131.85 L1572.59,1131.87 L1574.59,1131.89 L1576.60,1131.90"/>
<g font-family="'Liberation Serif', serif" fill="#000" stroke="#fff" stroke-width="0.7">
<text transform="translate(142.5,1155.6) scale(0.9,1)" font-size="44" text-anchor="end">-1</text>
<text transform="translate(142.5,996.3) scale(0.9,1)" font-size="44" text-anchor="end">0</text>
<text transform="translate(142.5,837.0) scale(0.9,1)" font-size="44" text-anchor="end">1</text>
<text transform="translate(142.5,677.7) scale(0.9,1)" font-size="44" text-anchor="end">2</text>
<text transform="translate(142.5,518.4) scale(0.9,1)" font-size="44" text-anchor="end">3</text>
<text transform="translate(142.5,359.1) scale(0.9,1)" font-size="44" text-anchor="end">4</text>
<text transform="translate(142.5,199.8) scale(0.9,1)" font-size="44" text-anchor="end">5</text>
<text transform="translate(142.5,40.5) scale(0.9,1)" font-size="44" text-anchor="end">6</text>
<text transform="scale(0.900,1)" x="188.41" y="1216.4" font-size="48.6">0</text>
<text transform="scale(0.900,1)" x="432.86 460.43" y="1216.4" font-size="48.6">50</text>
<text transform="scale(0.900,1)" x="677.56 705.35 732.46" y="1216.4" font-size="48.6">100</text>
<text transform="scale(0.900,1)" x="936.03 963.36 990.93" y="1216.4" font-size="48.6">150</text>
<text transform="scale(0.900,1)" x="1195.46 1222.29 1249.41" y="1216.4" font-size="48.6">200</text>
<text transform="scale(0.900,1)" x="1453.93 1480.30 1507.88" y="1216.4" font-size="48.6">250</text>
<text transform="scale(0.900,1)" x="1711.91 1739.24 1766.35" y="1216.4" font-size="48.6">300</text>
</g>
<text transform="scale(0.9868,1)" x="767.47 805.72 833.94 883.59 914.58 932.47 964.67 985.24 1012.10 1028.81 1050.32 1074.41 1108.21" y="1323.00" font-family="'Liberation Serif', serif" font-size="60.50" fill="#000">Tempture (°C)</text>
<text transform="translate(53.70,853.00) rotate(-90) scale(0.9779,1)" x="1.06 47.57 77.39 105.75 123.67 137.69 175.88 192.39 226.03 272.61 287.28 308.68 359.72 420.13 436.92 487.72 521.35" y="0" font-family="'Liberation Serif', serif" font-size="64.50" fill="#1a0505">Heat Flow (mW/mg)</text>
<text transform="scale(0.9797,1)" x="1189.99 1237.65 1275.24 1310.71 1345.39 1376.94 1418.29 1433.62 1454.22 1512.38 1527.06 1562.49 1582.04 1620.48 1643.76" y="242.90" font-family="'Liberation Sans', sans-serif" font-size="69.00" fill="#000">Physcal mixture</text>
<text transform="scale(0.9710,1)" x="1291.00 1331.58 1362.65 1381.00 1404.41 1434.70 1467.51 1496.53 1514.33" y="444.30" font-family="'Liberation Serif', serif" font-size="62.00" fill="#000">Extrudate</text>
<text transform="scale(0.9934,1)" x="1249.63 1288.22 1327.50 1349.44 1388.37 1405.67 1452.23 1494.59" y="643.40" font-family="'Liberation Sans', sans-serif" font-size="70.00" fill="#000">pure PZQ</text>
<text transform="scale(0.9668,1)" x="1094.58 1146.14 1192.55 1251.47 1303.39 1349.95" y="1050.00" font-family="'Liberation Sans', sans-serif" font-size="70.00" fill="#000">HPMCAS</text>
</svg>
</body></html>
